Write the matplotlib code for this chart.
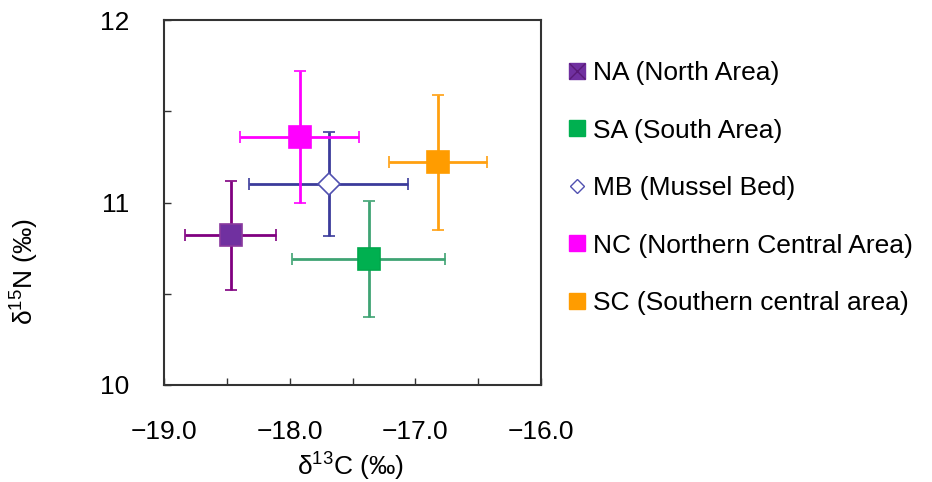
import numpy as np
import matplotlib
matplotlib.use("Agg")
import matplotlib.pyplot as plt
from matplotlib.lines import Line2D
from matplotlib.ticker import FuncFormatter

plt.rcParams["font.family"] = ["Liberation Sans", "DejaVu Sans"]
plt.rcParams["mathtext.fontset"] = "custom"
plt.rcParams["mathtext.rm"] = "Liberation Sans"

# mean +/- SD of stable isotope ratios per sampling area
sites = ["NA (North Area)", "SA (South Area)", "MB (Mussel Bed)",
         "NC (Northern Central Area)", "SC (Southern central area)"]
d13c = [-18.47, -17.37, -17.69, -17.92, -16.82]
d13c_sd = [0.36, 0.61, 0.63, 0.475, 0.39]
d15n = [10.82, 10.69, 11.10, 11.36, 11.22]
d15n_sd = [0.30, 0.32, 0.285, 0.36, 0.37]

# marker, face, edge, error-bar colour
styles = [("s", "#7030A0", "#8A3A9E", "#800080"),
          ("s", "#00B050", "#00A84C", "#3FA373"),
          ("D", "white", "#5050B0", "#3B3B9B"),
          ("s", "#FF00FF", "#FF00FF", "#FF00FF"),
          ("s", "#FF9C00", "#FF9C00", "#FFA010")]

FS = 19

fig = plt.figure(figsize=(9.32, 4.82), dpi=100)
ax = fig.add_axes([164/932, 1-385/482, 377/932, 365/482])

for i, (mk, fc, ec, erc) in enumerate(styles):
    ax.errorbar(d13c[i], d15n[i], xerr=d13c_sd[i], yerr=d15n_sd[i],
                fmt=mk, ms=16 if mk == "s" else 11, mfc=fc, mec=ec, mew=1.2,
                ecolor=erc, elinewidth=2, capsize=4.5, capthick=2, zorder=3+i)

ax.set_xlim(-19, -16)
ax.set_ylim(10, 12)
ax.set_xticks([-19, -18, -17, -16])
ax.set_xticks([-18.5, -17.5, -16.5], minor=True)
ax.set_yticks([10, 11, 12])
ax.set_yticks([10.5, 11.5], minor=True)
ax.xaxis.set_major_formatter(FuncFormatter(lambda v, p: ("%.1f" % v).replace("-", "\u2212")))
ax.yaxis.set_major_formatter(FuncFormatter(lambda v, p: "%d" % v))
ax.tick_params(which="both", direction="in", length=5, width=1, color="#333333")
ax.tick_params(axis="x", which="major", pad=25, labelsize=FS)
ax.tick_params(axis="y", which="major", pad=25, labelsize=FS)
for s in ax.spines.values():
    s.set_color("#333333")
    s.set_linewidth(1.5)

fig.text(350/932, 1-467/482, r"$\mathregular{\delta^{13}}$C (‰)", fontsize=FS,
         ha="center", va="center")
fig.text(25/932, 1-272/482, r"$\mathregular{\delta^{15}}$N (‰)", fontsize=FS,
         ha="center", va="center", rotation=90)

handles = []
for i, (mk, fc, ec, erc) in enumerate(styles):
    h = Line2D([], [], ls="none", marker=mk, ms=11.5 if mk == "s" else 7.5,
               mfc=fc, mec=ec if mk == "D" else fc, mew=1)
    if i == 0:
        h = (h, Line2D([], [], ls="none", marker="x", ms=11, mec="#5A1A78", mew=1))
    handles.append(h)

fig.legend(handles, sites, loc="upper left", bbox_to_anchor=(568/932, 1-61/482),
           frameon=False, fontsize=FS, handlelength=0.7, handletextpad=0.25,
           labelspacing=1.27, borderpad=0, borderaxespad=0)

fig.savefig("out.png", dpi=100)
